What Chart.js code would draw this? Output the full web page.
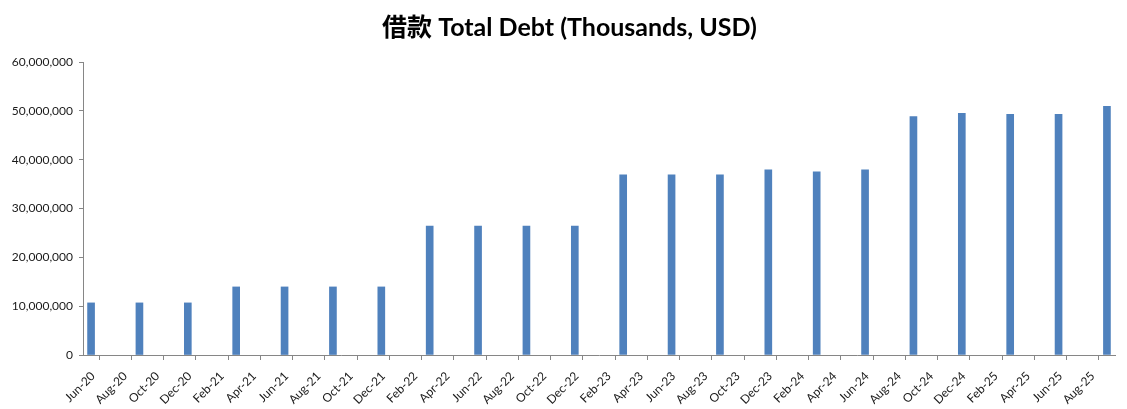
<!DOCTYPE html>
<html>
<head>
<meta charset="utf-8">
<script src="https://cdn.jsdelivr.net/npm/chart.js@4.4.1/dist/chart.umd.min.js"></script>
<style>
  html, body { margin: 0; padding: 0; background: #ffffff; }
  #wrap { width: 1127px; height: 409px; }
</style>
</head>
<body>
<div id="wrap"><canvas id="c" width="1127" height="409"></canvas></div>
<script>
// Quarterly observation months
const quarters = ['Jun-20','Sep-20','Dec-20','Mar-21','Jun-21','Sep-21','Dec-21','Mar-22','Jun-22','Sep-22','Dec-22',
  'Mar-23','Jun-23','Sep-23','Dec-23','Mar-24','Jun-24','Sep-24','Dec-24','Mar-25','Jun-25','Sep-25'];
// Total debt, thousands USD
const debt = [10670000, 10670000, 10670000, 13940000, 13940000, 13940000, 13940000, 26400000, 26400000, 26400000, 26400000,
  36900000, 36900000, 36900000, 37900000, 37500000, 37900000, 48800000, 49500000, 49300000, 49300000, 50900000];
// X-axis tick labels (every two months)
const tickLabels = ['Jun-20','Aug-20','Oct-20','Dec-20','Feb-21','Apr-21','Jun-21','Aug-21','Oct-21','Dec-21',
  'Feb-22','Apr-22','Jun-22','Aug-22','Oct-22','Dec-22','Feb-23','Apr-23','Jun-23','Aug-23','Oct-23','Dec-23',
  'Feb-24','Apr-24','Jun-24','Aug-24','Oct-24','Dec-24','Feb-25','Apr-25','Jun-25','Aug-25'];
const titleText = '借款 Total Debt (Thousands, USD)';

const monthNames = ['Jan','Feb','Mar','Apr','May','Jun','Jul','Aug','Sep','Oct','Nov','Dec'];
function monthIndex(lbl) {
  const [m, y] = lbl.split('-');
  return (parseInt(y, 10) - 20) * 12 + monthNames.indexOf(m) - 5; // months since Jun-20
}
const points = quarters.map((q, i) => ({ x: monthIndex(q) + 0.5, y: debt[i] }));
const totalMonths = tickLabels.length * 2; // axis spans Jun-20 .. end of Sep-25

const axisGray = '#868686';
const tickFont = { family: 'Lato, "Liberation Sans", sans-serif', size: 12 };

const shiftTitle = {
  id: 'shiftTitle',
  afterLayout(chart) {
    if (chart.titleBlock) { chart.titleBlock.left += 24; }
  }
};

new Chart(document.getElementById('c'), {
  type: 'bar',
  data: {
    datasets: [{
      label: 'Total Debt',
      data: points,
      backgroundColor: '#4F81BD',
      borderWidth: 0,
      barThickness: 7
    }]
  },
  plugins: [shiftTitle],
  options: {
    responsive: false,
    animation: false,
    layout: { padding: { left: 0, right: 12, top: 0, bottom: 0 } },
    plugins: {
      legend: { display: false },
      tooltip: { enabled: false },
      title: {
        display: true,
        text: titleText,
        color: '#000000',
        font: { family: 'Lato, "Noto Sans CJK SC", sans-serif', size: 25, weight: 'bold' },
        padding: { top: 13, bottom: 19 }
      }
    },
    scales: {
      x: {
        type: 'linear',
        min: 0,
        max: totalMonths,
        offset: false,
        border: { display: true, color: axisGray, width: 1 },
        grid: { display: true, drawOnChartArea: false, drawTicks: true, tickLength: 5, color: axisGray },
        ticks: {
          stepSize: 2,
          autoSkip: false,
          maxRotation: 45,
          minRotation: 45,
          padding: 9,
          labelOffset: 10,
          color: '#1a1a1a',
          font: tickFont,
          callback: (v) => tickLabels[v / 2] !== undefined ? tickLabels[v / 2] : ''
        },
        afterFit: (s) => { s.height = 54; s.paddingLeft = 0; s.paddingRight = 0; }
      },
      y: {
        min: 0,
        max: 60000000,
        border: { display: true, color: axisGray, width: 1 },
        grid: { display: true, drawOnChartArea: false, drawTicks: true, tickLength: 4, color: axisGray },
        ticks: {
          stepSize: 10000000,
          padding: 6,
          color: '#1a1a1a',
          font: tickFont,
          callback: (v) => v.toLocaleString('en-US')
        },
        afterFit: (s) => { s.width = 83; }
      }
    }
  }
});
</script>
</body>
</html>
